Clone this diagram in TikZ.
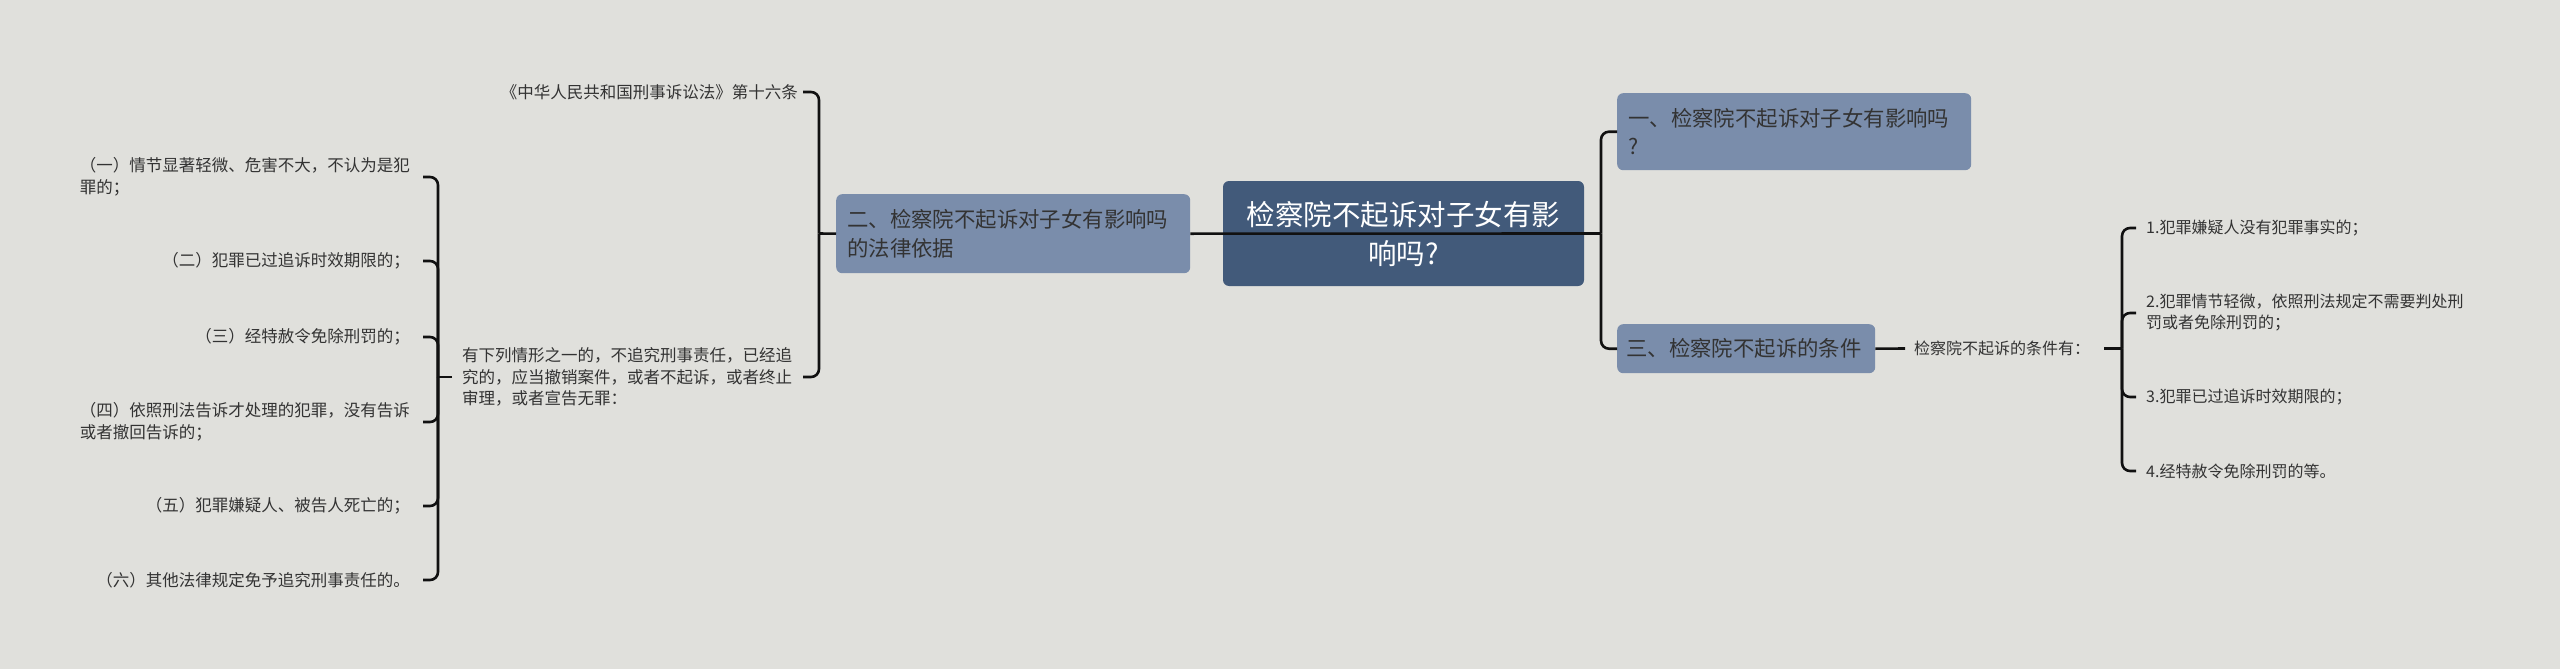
\documentclass[tikz,border=0pt]{standalone}
\usepackage{fontspec}
\newfontfamily\cjk{Noto Sans CJK SC}
\definecolor{bg}{HTML}{E0E0DC}
\definecolor{mainc}{HTML}{425A7A}
\definecolor{subc}{HTML}{7A8DAB}
\definecolor{txt}{HTML}{333333}
\definecolor{ln}{HTML}{111111}
\begin{document}
\begin{tikzpicture}[x=1pt,y=-1pt,
 mainbox/.style={fill=mainc, rounded corners=6pt, text=white, font=\cjk\fontsize{28.5}{39}\selectfont, align=center, inner sep=0pt, minimum width=361pt, minimum height=105pt},
 subbox/.style={fill=subc, rounded corners=6pt, text=txt, font=\cjk\fontsize{21.4}{28.5}\selectfont, align=left, inner xsep=11pt, inner ysep=0pt, anchor=north west},
 leaf/.style={text=txt, font=\cjk\fontsize{16.5}{21.5}\selectfont, inner sep=0pt, align=left},
 rleaf/.style={text=txt, font=\cjk\fontsize{16}{21}\selectfont, inner sep=0pt, align=left, anchor=west},
 conn/.style={draw=ln, line width=2.6pt, rounded corners=8pt}
]
\fill[bg] (0,0) rectangle (2560,669);
\useasboundingbox (0,0) rectangle (2560,669);

% main and sub topics
\node[mainbox] (C) at (1403.5,233.5) {检察院不起诉对子女有影\\响吗?};
\node[subbox, text width=332pt, minimum height=79pt] (L2) at (836,194) {二、检察院不起诉对子女有影响吗\\的法律依据};
\node[subbox, text width=332pt, minimum height=77pt] (R1) at (1617,93) {一、检察院不起诉对子女有影响吗\\?};
\node[subbox, text width=240pt, inner xsep=9pt, minimum height=49pt] (R3) at (1617,324) {三、检察院不起诉的条件};

% left leaves
\node[leaf, anchor=east] (law) at (798,92) {《中华人民共和国刑事诉讼法》第十六条};
\node[leaf, anchor=west] (dec) at (462,377) {有下列情形之一的，不追究刑事责任，已经追\\究的，应当撤销案件，或者不起诉，或者终止\\审理，或者宣告无罪：};
\node[leaf, anchor=east, text width=334pt] (i1) at (414,177) {（一）情节显著轻微、危害不大，不认为是犯\\罪的；};
\node[leaf, anchor=east] (i2) at (410,261) {（二）犯罪已过追诉时效期限的；};
\node[leaf, anchor=east] (i3) at (410,337) {（三）经特赦令免除刑罚的；};
\node[leaf, anchor=east, text width=334pt] (i4) at (414,422) {（四）依照刑法告诉才处理的犯罪，没有告诉\\或者撤回告诉的；};
\node[leaf, anchor=east] (i5) at (410,506) {（五）犯罪嫌疑人、被告人死亡的；};
\node[leaf, anchor=east] (i6) at (410,580) {（六）其他法律规定免予追究刑事责任的。};

% right leaves
\node[rleaf] (cond) at (1914,348.5) {检察院不起诉的条件有：};
\node[rleaf] (c1) at (2146,228) {1.犯罪嫌疑人没有犯罪事实的；};
\node[rleaf] (c2) at (2146,313) {2.犯罪情节轻微，依照刑法规定不需要判处刑\\罚或者免除刑罚的；};
\node[rleaf] (c3) at (2146,397) {3.犯罪已过追诉时效期限的；};
\node[rleaf] (c4) at (2146,471) {4.经特赦令免除刑罚的等。};

% junctions
\coordinate (jL) at (819,233.5);
\coordinate (jR) at (1601,233.5);
\coordinate (jL2) at (438,377);
\coordinate (jR3) at (2122,348.5);

% connectors
\draw[conn] (L2.east) -- (jR);
\draw[conn] (jR) |- (R1.west);
\draw[conn] (jR) |- (R3.west);
\draw[conn] (R3.east) -- ([xshift=-9pt]cond.west);

\draw[conn] (jL) -- (L2.west);
\draw[conn] (jL) |- ([xshift=-16pt]jL |- law.center);
\draw[conn] (jL) |- ([xshift=-16pt]jL |- dec.center);

\draw[conn] ([xshift=-10pt]dec.west) -- (jL2);
\foreach \n in {i1,i2,i3,i4,i5,i6}
  \draw[conn] (jL2) |- ([xshift=-15pt]jL2 |- \n.center);

\draw[conn] ([xshift=14pt]cond.east) -- (jR3);
\foreach \n in {c1,c2,c3,c4}
  \draw[conn] (jR3) |- ([xshift=14pt]jR3 |- \n.center);
\end{tikzpicture}
\end{document}
